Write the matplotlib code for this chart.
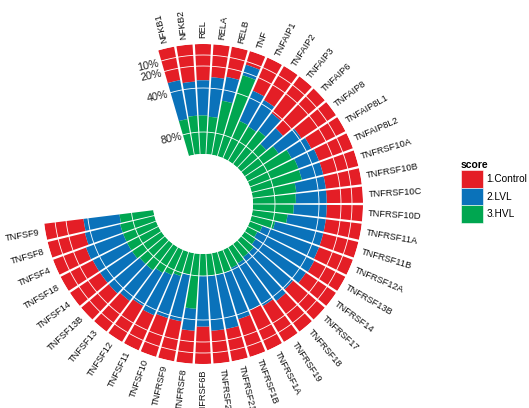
import numpy as np
import matplotlib
matplotlib.use("Agg")
import matplotlib.pyplot as plt
from matplotlib.patches import Patch

plt.rcParams['font.family'] = ['Liberation Sans', 'DejaVu Sans']

# genes in the order they run clockwise round the circle
genes = ['NFKB1', 'NFKB2', 'REL', 'RELA', 'RELB', 'TNF', 'TNFAIP1', 'TNFAIP2',
         'TNFAIP3', 'TNFAIP6', 'TNFAIP8', 'TNFAIP8L1', 'TNFAIP8L2',
         'TNFRSF10A', 'TNFRSF10B', 'TNFRSF10C', 'TNFRSF10D', 'TNFRSF11A',
         'TNFRSF11B', 'TNFRSF12A', 'TNFRSF13B', 'TNFRSF14', 'TNFRSF17',
         'TNFRSF18', 'TNFRSF19', 'TNFRSF1A', 'TNFRSF1B', 'TNFRSF21',
         'TNFRSF25', 'TNFRSF6B', 'TNFRSF8', 'TNFRSF9', 'TNFSF10', 'TNFSF11',
         'TNFSF12', 'TNFSF13', 'TNFSF13B', 'TNFSF14', 'TNFSF18', 'TNFSF4',
         'TNFSF8', 'TNFSF9']

# share of each score group per gene
control = [0.31, 0.34, 0.33, 0.30, 0.28, 0.13, 0.33, 0.36, 0.42, 0.50, 0.38,
           0.35, 0.33, 0.33, 0.33, 0.33, 0.33, 0.33, 0.33, 0.33, 0.32, 0.33,
           0.38, 0.35, 0.38, 0.40, 0.36, 0.30, 0.30, 0.34, 0.30, 0.37, 0.37,
           0.35, 0.38, 0.35, 0.33, 0.33, 0.33, 0.32, 0.35, 0.36]
lvl = [0.36, 0.31, 0.32, 0.36, 0.22, 0.10, 0.30, 0.28, 0.20, 0.20, 0.25,
       0.20, 0.20, 0.20, 0.27, 0.28, 0.30, 0.35, 0.45, 0.55, 0.58, 0.55,
       0.47, 0.50, 0.45, 0.42, 0.44, 0.50, 0.50, 0.46, 0.20, 0.43, 0.40,
       0.40, 0.35, 0.35, 0.37, 0.35, 0.35, 0.36, 0.33, 0.33]
hvl = [0.33, 0.35, 0.35, 0.34, 0.50, 0.77, 0.37, 0.36, 0.38, 0.30, 0.37,
       0.45, 0.47, 0.47, 0.40, 0.39, 0.37, 0.32, 0.22, 0.12, 0.10, 0.12,
       0.15, 0.15, 0.17, 0.18, 0.20, 0.20, 0.20, 0.20, 0.50, 0.20, 0.23,
       0.25, 0.27, 0.30, 0.30, 0.32, 0.32, 0.32, 0.32, 0.31]

score_levels = ['1.Control', '2.LVL', '3.HVL']
score_colors = ['#E41E26', '#0A72BA', '#00A650']

pct_breaks = [0.9, 0.8, 0.6, 0.2]
pct_labels = ['10%', '20%', '40%', '80%']

###############################################################################
#                         Circular stacked bar chart                          #
###############################################################################
n = len(genes)
step = 360.0 / 54
deg = (np.arange(n) - 2) * step
theta = np.deg2rad(deg)
slot = np.deg2rad(step)

shares = np.array([control, lvl, hvl], dtype=float)
shares = shares / shares.sum(axis=0)   # fill each bar to 100%

fig = plt.figure(figsize=(5.29, 4.08), dpi=100)
ax = fig.add_axes([43 / 529, 44 / 408, 320 / 529, 320 / 408], projection='polar')
ax.set_theta_zero_location('N')
ax.set_theta_direction(-1)

# control sits on the outside, HVL next to the hole
top = np.ones(n)
for k in range(3):
    ax.bar(theta, shares[k], width=slot * 0.87, bottom=top - shares[k],
           color=score_colors[k], linewidth=0, align='center')
    top = top - shares[k]

ax.set_ylim(0, 1)
ax.set_rorigin(-0.4545)
ax.set_axis_off()

# white reference rings over the bars
tt = np.linspace(theta[0] - slot / 2, theta[-1] + slot / 2, 400)
for lev in pct_breaks:
    ax.plot(tt, np.full_like(tt, lev), color='white', lw=0.6)

for lev, lab in zip(pct_breaks, pct_labels):
    ax.text(np.deg2rad(-17.5), lev - 0.01, lab, ha='right', va='center',
            rotation=13, rotation_mode='anchor', fontsize=7.8, color='#222222')

# gene names pointing out from the bars, flipped on the left half
for t, d, g in zip(theta, deg, genes):
    if d < 179:
        rot, ha = 90 - d, 'left'
    else:
        rot, ha = 270 - d, 'right'
    ax.text(t, 1.05, g, rotation=rot, rotation_mode='anchor', ha=ha,
            va='center', fontsize=6.7, color='#111111', clip_on=False)

handles = [Patch(facecolor=c, edgecolor='white', linewidth=0.4) for c in score_colors]
fig.legend(handles, score_levels, title='score', loc='upper left',
           bbox_to_anchor=(461 / 529, 1 - 160 / 408), frameon=False,
           handlelength=2.2, handleheight=2.3, labelspacing=0,
           handletextpad=0.3, borderpad=0, borderaxespad=0, alignment='left',
           fontsize=7.3, title_fontproperties={'weight': 'bold', 'size': 7.5})

fig.savefig('out.png', dpi=100)
